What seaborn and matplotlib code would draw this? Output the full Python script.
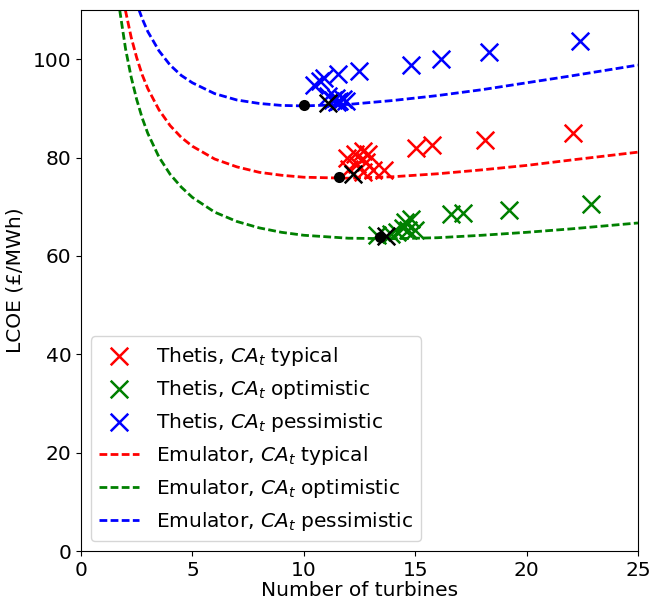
import numpy as np
import pandas as pd
import matplotlib
matplotlib.use("Agg")
import matplotlib.pyplot as plt
import seaborn as sns

# ---- Emulator curves ----
emu_x = [1.5, 1.75, 2, 2.25, 2.5, 2.75, 3, 3.5, 4, 4.5, 5, 6, 7, 8, 9, 10,
         12, 14, 16, 18, 20, 22, 25]
emu_typical = [126.0, 116.7, 109.8, 104.5, 100.3, 96.8, 94.0, 89.7, 86.5, 84.1,
               82.3, 79.7, 78.1, 77.0, 76.4, 76.0, 75.8, 76.1, 76.7, 77.5,
               78.4, 79.5, 81.1]
emu_optimistic = [119.6, 109.6, 102.1, 96.4, 91.8, 88.0, 84.9, 80.1, 76.6, 74.0,
                  71.9, 68.9, 67.0, 65.7, 64.8, 64.2, 63.6, 63.5, 63.7, 64.2,
                  64.8, 65.5, 66.7]
emu_pessimistic = [135.0, 127.0, 120.0, 115.2, 111.3, 108.2, 105.6, 101.7, 98.8,
                   96.7, 95.2, 93.0, 91.7, 91.0, 90.6, 90.5, 90.8, 91.6, 92.6,
                   93.8, 95.2, 96.6, 98.8]

# ---- Thetis results ----
thetis_typ_x = [11.95, 12.3, 12.65, 12.9, 12.4, 12.8, 12.05, 13.1, 13.6, 12.65,
                15.05, 15.75, 18.15, 22.1]
thetis_typ_y = [80.0, 80.8, 81.3, 80.7, 78.6, 79.0, 77.6, 77.4, 77.4, 77.1,
                82.0, 82.6, 83.6, 85.0]
thetis_opt_x = [13.3, 13.9, 14.2, 14.45, 14.7, 15.0, 14.55, 14.8, 16.6, 17.15,
                19.2, 22.9]
thetis_opt_y = [64.2, 64.4, 64.9, 65.6, 65.2, 65.3, 66.9, 67.5, 68.6, 68.7,
                69.4, 70.5]
thetis_pes_x = [11.1, 11.3, 11.45, 11.6, 11.75, 11.5, 11.9, 10.45, 10.75, 10.9,
                11.55, 12.5, 14.8, 16.15, 18.3, 22.4]
thetis_pes_y = [92.5, 91.8, 92.2, 91.6, 92.0, 91.2, 91.5, 94.7, 95.5, 96.1,
                96.9, 97.5, 98.8, 100.0, 101.4, 103.6]

# ---- Optima (black markers) ----
opt_thetis_x = [12.2, 13.7, 11.1]
opt_thetis_y = [76.6, 64.0, 91.0]
opt_emu_x = [11.6, 13.4, 10.0]
opt_emu_y = [76.0, 63.8, 90.6]

scenarios = ["typical", "optimistic", "pessimistic"]
colors = ["red", "green", "blue"]

fig = plt.figure(figsize=(6.49, 5.99), dpi=100)
ax = fig.add_axes([0.1248, 0.0801, 0.983 - 0.1248, 0.9833 - 0.0801])

emu_ys = [emu_typical, emu_optimistic, emu_pessimistic]
th_x = [thetis_typ_x, thetis_opt_x, thetis_pes_x]
th_y = [thetis_typ_y, thetis_opt_y, thetis_pes_y]

for sc, col, ey in zip(scenarios, colors, emu_ys):
    df = pd.DataFrame({"x": emu_x, "y": ey})
    sns.lineplot(data=df, x="x", y="y", ax=ax, color=col, linestyle="--",
                 dashes=False, linewidth=2.0, label=f"Emulator, $CA_t$ {sc}",
                 sort=False)
for ln in ax.get_lines():
    ln.set_dashes((2.8, 1.2))

for sc, col, xs, ys in zip(scenarios, colors, th_x, th_y):
    sns.scatterplot(x=xs, y=ys, ax=ax, marker="x", color=col, s=160,
                    linewidth=1.8, label=f"Thetis, $CA_t$ {sc}", zorder=3)

sns.scatterplot(x=opt_thetis_x, y=opt_thetis_y, ax=ax, marker="x", color="black",
                s=160, linewidth=1.8, zorder=4)
sns.scatterplot(x=opt_emu_x, y=opt_emu_y, ax=ax, marker="o", color="black",
                s=64, linewidth=0, zorder=4)

ax.set_xlim(0, 25)
ax.set_ylim(0, 110)
ax.set_xticks([0, 5, 10, 15, 20, 25])
ax.set_yticks([0, 20, 40, 60, 80, 100])
ax.tick_params(labelsize=14.5)
ax.set_xlabel("Number of turbines", fontsize=14.5, labelpad=1)
ax.set_ylabel("LCOE (£/MWh)", fontsize=14.5, labelpad=6)

handles, labels = ax.get_legend_handles_labels()
order = [f"Thetis, $CA_t$ {s}" for s in scenarios] + [f"Emulator, $CA_t$ {s}" for s in scenarios]
hl = dict(zip(labels, handles))
leg = ax.legend([hl[l] for l in order], order, loc="lower left", fontsize=14.5,
                scatterpoints=1, handlelength=2.0)

fig.savefig("out.png", dpi=100)
